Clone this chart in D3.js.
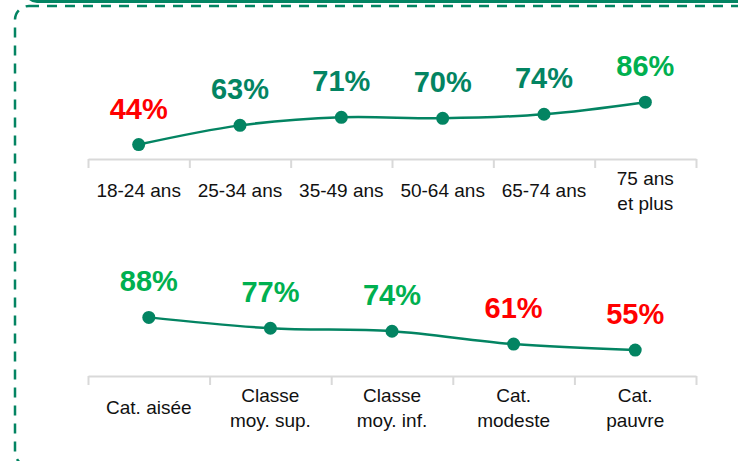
<!DOCTYPE html>
<html>
<head>
<meta charset="utf-8">
<script src="https://cdn.jsdelivr.net/npm/d3@7"></script>
<style>
  body { margin: 0; background: #fff; }
  svg { display: block; }
</style>
</head>
<body>
<div id="chart"></div>
<script>
// age groups
const ageLabels = [["18-24 ans"], ["25-34 ans"], ["35-49 ans"], ["50-64 ans"], ["65-74 ans"], ["75 ans", "et plus"]];
const ageValues = [44, 63, 71, 70, 74, 86];
const ageColors = ["red", "teal", "teal", "teal", "teal", "green"];

// social categories
const catLabels = [["Cat. aisée"], ["Classe", "moy. sup."], ["Classe", "moy. inf."], ["Cat.", "modeste"], ["Cat.", "pauvre"]];
const catValues = [88, 77, 74, 61, 55];
const catColors = ["green", "green", "green", "red", "red"];

const W = 738, H = 461;
const lineColor = "#038462";
const palette = { red: "#ff0000", teal: "#038462", green: "#00b050" };

const svg = d3.select("#chart").append("svg")
  .attr("width", W)
  .attr("height", H);

// frame: solid bar from the box above + dashed box
svg.append("rect")
  .attr("x", 25).attr("y", -40)
  .attr("width", 760).attr("height", 43)
  .attr("rx", 12)
  .attr("fill", lineColor);

svg.append("rect")
  .attr("x", 15).attr("y", 6)
  .attr("width", 760).attr("height", 460)
  .attr("rx", 14)
  .attr("fill", "none")
  .attr("stroke", lineColor)
  .attr("stroke-width", 2.5)
  .attr("stroke-dasharray", "10,8");

function drawPanel(labels, values, colors, axisY, yRange) {
  const g = svg.append("g");

  const x = d3.scaleBand()
    .domain(d3.range(values.length))
    .range([88, 696]);

  const y = d3.scaleLinear()
    .domain([0, 100])
    .range(yRange);

  // axis with ticks at band edges
  const edges = d3.scaleLinear().domain([0, values.length]).range(x.range());
  const axis = g.append("g")
    .attr("transform", "translate(0," + axisY + ")")
    .call(d3.axisBottom(edges)
      .ticks(values.length)
      .tickSize(9)
      .tickSizeOuter(0)
      .tickFormat(""));
  axis.selectAll("path, line")
    .attr("stroke", "#d9d9d9")
    .attr("stroke-width", 2);

  // category labels
  const lab = g.selectAll("text.cat")
    .data(labels)
    .enter().append("text")
    .attr("class", "cat")
    .attr("text-anchor", "middle")
    .attr("font-family", "Liberation Sans, Arial, sans-serif")
    .attr("font-size", 19)
    .attr("fill", "#111");
  lab.each(function(d, i) {
    const t = d3.select(this);
    const cx = x(i) + x.bandwidth() / 2;
    const base = axisY + 38 - (d.length - 1) * 12.5;
    d.forEach((line, k) => {
      t.append("tspan")
        .attr("x", cx)
        .attr("y", base + k * 25)
        .text(line);
    });
  });

  const line = d3.line()
    .x((d, i) => x(i) + x.bandwidth() / 2)
    .y(d => y(d))
    .curve(d3.curveCatmullRom);

  g.append("path")
    .datum(values)
    .attr("d", line)
    .attr("fill", "none")
    .attr("stroke", lineColor)
    .attr("stroke-width", 2.5);

  g.selectAll("circle.pt")
    .data(values)
    .enter().append("circle")
    .attr("class", "pt")
    .attr("cx", (d, i) => x(i) + x.bandwidth() / 2)
    .attr("cy", d => y(d))
    .attr("r", 6.5)
    .attr("fill", lineColor);

  g.selectAll("text.val")
    .data(values)
    .enter().append("text")
    .attr("class", "val")
    .attr("x", (d, i) => x(i) + x.bandwidth() / 2)
    .attr("y", d => y(d) - 26)
    .attr("text-anchor", "middle")
    .attr("font-family", "Liberation Sans, Arial, sans-serif")
    .attr("font-weight", "bold")
    .attr("font-size", 29)
    .attr("fill", (d, i) => palette[colors[i]])
    .text(d => d + "%");
}

drawPanel(ageLabels, ageValues, ageColors, 159, [189, 88]);
drawPanel(catLabels, catValues, catColors, 376, [404.5, 305.5]);
</script>
</body>
</html>
